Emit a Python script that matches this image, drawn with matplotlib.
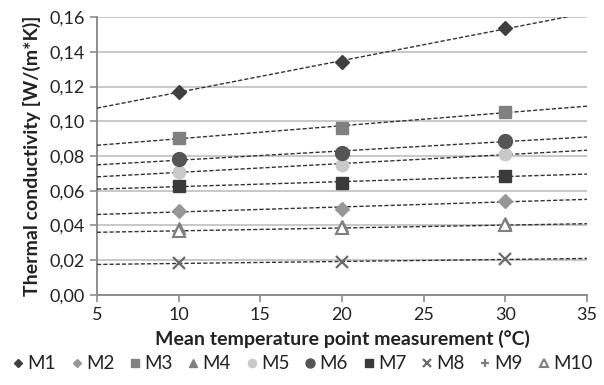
import numpy as np
import matplotlib
matplotlib.use("Agg")
import matplotlib.pyplot as plt
from matplotlib.ticker import FuncFormatter

plt.rcParams['font.family'] = ['Lato', 'DejaVu Sans']

temps = [10, 20, 30]
series_names = ["M1", "M2", "M3", "M4", "M5", "M6", "M7", "M8", "M9", "M10"]
M1 = [0.117, 0.1343, 0.1535]
M2 = [0.0483, 0.0497, 0.0541]
M3 = [0.0905, 0.0963, 0.1055]
M4 = [0.0385, 0.0398, 0.0415]
M5 = [0.0710, 0.0748, 0.0812]
M6 = [0.0781, 0.0819, 0.0888]
M7 = [0.0627, 0.0646, 0.0685]
M8 = [0.0182, 0.0192, 0.0205]
M9 = [0.0370, 0.0384, 0.0403]
M10 = [0.0370, 0.0384, 0.0403]
values = [M1, M2, M3, M4, M5, M6, M7, M8, M9, M10]
# series that carry a linear trendline
trend = [True, True, True, False, True, True, True, True, False, True]

styles = [
    dict(marker='D', color='#3f3f3f', ms=7),
    dict(marker='D', color='#979797', ms=7),
    dict(marker='s', color='#808080', ms=9),
    dict(marker='^', color='#7f7f7f', ms=9),
    dict(marker='o', color='#c9c9c9', ms=9),
    dict(marker='o', color='#555555', ms=10),
    dict(marker='s', color='#3a3a3a', ms=9),
    dict(marker='x', color='#6a6a6a', ms=9, mew=1.6),
    dict(marker='+', color='#7f7f7f', ms=9, mew=1.6),
    dict(marker='^', color='#7f7f7f', ms=9, mfc='white', mew=1.5),
]

fig = plt.figure(figsize=(6.04, 3.85), dpi=100)
ax = fig.add_axes([0.1606, 0.2338, 0.8114, 0.722])

ax.set_xlim(5, 35)
ax.set_ylim(0, 0.16)
ax.set_xticks(np.arange(5, 36, 5))
ax.set_yticks(np.arange(0, 0.161, 0.02))
ax.yaxis.set_major_formatter(FuncFormatter(lambda v, p: f"{v:.2f}".replace('.', ',')))

ax.grid(axis='y', color='#bfbfbf', linewidth=1.2)
ax.set_axisbelow(True)
for s in ['top', 'right']:
    ax.spines[s].set_visible(False)
for s in ['left', 'bottom']:
    ax.spines[s].set_color('#8c8c8c')
    ax.spines[s].set_linewidth(1.4)
ax.tick_params(axis='both', colors='#8c8c8c', length=5, width=1.2, labelsize=13,
               labelcolor='#222222')

xs = np.array([5, 35])
handles = []
for vals, has_trend in zip(values, trend):
    if has_trend:
        k, b = np.polyfit(temps, vals, 1)
        ax.plot(xs, k * xs + b, linestyle=(0, (3, 1.5)), color='#333333', linewidth=1.0, zorder=3)
for name, vals, st in zip(series_names, values, styles):
    st = dict(st)
    mfc = st.pop('mfc', st['color'])
    h, = ax.plot(temps, vals, linestyle='none', marker=st['marker'], color=st['color'],
                 markersize=st['ms'], mfc=mfc, mec=st['color'], mew=st.get('mew', 1.0),
                 label=name, zorder=4)
    handles.append(h)

ax.set_xlabel("Mean temperature point measurement (°C)", fontsize=14, fontweight='bold',
              color='#222222', labelpad=5)
ax.set_ylabel("Thermal conductivity [W/(m*K)]", fontsize=14, fontweight='bold',
              color='#222222', labelpad=6)

leg = fig.legend(handles=handles, loc='center', bbox_to_anchor=(0.5, 0.055), ncol=10,
                 frameon=False, fontsize=13.5, handlelength=0.7, handletextpad=0.15,
                 columnspacing=0.75, markerscale=0.65, borderaxespad=0)
for t in leg.get_texts():
    t.set_color('#222222')

fig.savefig("out.png", dpi=100)
